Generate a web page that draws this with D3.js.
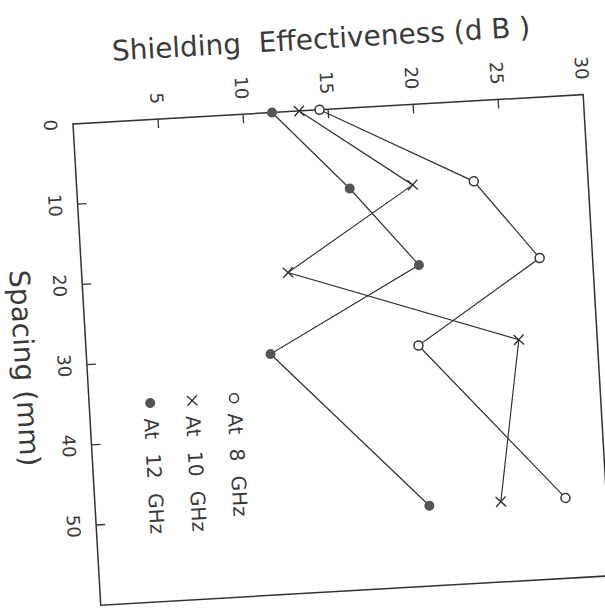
<!DOCTYPE html>
<html>
<head>
<meta charset="utf-8">
<script src="https://cdn.jsdelivr.net/npm/d3@7"></script>
<style>
  body { margin: 0; background: #fff; }
  text { font-family: "DejaVu Sans", sans-serif; fill: #3a3a3a; }
</style>
</head>
<body>
<div id="chart"></div>
<script>
// data (spacing in mm, shielding effectiveness in dB)
const spacing = [0, 10, 20, 30, 50];
const se8 = [14.5, 23.3, 26.9, 19.5, 27.6];
const se10 = [13.3, 19.7, 12.1, 25.4, 23.8];
const se12 = [11.7, 16.0, 19.8, 10.8, 19.6];
const spacingTicks = [0, 10, 20, 30, 40, 50];
const seTicks = [5, 10, 15, 20, 25, 30];
const legendLabels = ["At 8 GHz", "At 10 GHz", "At 12 GHz"];

let W = 482, H = 511;   // plot size before the page is turned
let ink = "#333";

let svg = d3.select("#chart").append("svg")
    .attr("width", 605)
    .attr("height", 614);

// the printed chart is turned a quarter turn clockwise, and the scan a little askew
let g = svg.append("g")
    .attr("transform", "translate(73,124) rotate(86.7) translate(0," + (-H) + ")");

let x = d3.scaleLinear().domain([0, 60]).range([0, W]);
let y = d3.scaleLinear().domain([0, 30]).range([H, 0]);

g.append("rect")
    .attr("width", W)
    .attr("height", H)
    .attr("fill", "none")
    .attr("stroke", ink)
    .attr("stroke-width", 1.5);

// spacing ticks and labels
g.selectAll(".xt").data(spacingTicks.filter(d => d > 0)).enter()
    .append("line")
    .attr("x1", d => x(d)).attr("x2", d => x(d))
    .attr("y1", H).attr("y2", H - 9)
    .attr("stroke", ink).attr("stroke-width", 1.3);

g.selectAll(".xl").data(spacingTicks).enter()
    .append("text")
    .attr("x", d => x(d))
    .attr("y", H + 29)
    .attr("text-anchor", "middle")
    .style("font-size", "18px")
    .text(d => d);

// dB ticks and labels
g.selectAll(".yt").data(seTicks.filter(d => d < 30)).enter()
    .append("line")
    .attr("x1", 0).attr("x2", 9)
    .attr("y1", d => y(d)).attr("y2", d => y(d))
    .attr("stroke", ink).attr("stroke-width", 1.3);

g.selectAll(".yl").data(seTicks).enter()
    .append("text")
    .attr("x", -15)
    .attr("y", d => y(d))
    .attr("dy", "0.36em")
    .attr("text-anchor", "end")
    .style("font-size", "18px")
    .text(d => d);

// axis titles
g.append("text")
    .attr("transform", "translate(-61," + (H / 2 + 3) + ") rotate(-90)")
    .attr("text-anchor", "middle")
    .style("font-size", "28px")
    .style("white-space", "pre")
    .text("Shielding  Effectiveness (d B )");

g.append("text")
    .attr("x", W / 2)
    .attr("y", H + 72)
    .attr("text-anchor", "middle")
    .style("font-size", "28px")
    .text("Spacing (mm)");

// series
let series = [
    { vals: se8, mark: "open" },
    { vals: se10, mark: "cross" },
    { vals: se12, mark: "dot" }
];

let line = d3.line()
    .x(d => x(d[0]))
    .y(d => y(d[1]));

function drawMark(sel, kind, px, py) {
    if (kind === "open") {
        sel.append("circle").attr("cx", px).attr("cy", py).attr("r", 4.5)
            .attr("fill", "#fff").attr("stroke", ink).attr("stroke-width", 1.5);
    } else if (kind === "dot") {
        sel.append("circle").attr("cx", px).attr("cy", py).attr("r", 5)
            .attr("fill", "#555");
    } else {
        let s = 5;
        sel.append("path")
            .attr("d", "M" + (px - s) + "," + (py - s) + "L" + (px + s) + "," + (py + s) +
                "M" + (px - s) + "," + (py + s) + "L" + (px + s) + "," + (py - s))
            .attr("stroke", ink).attr("stroke-width", 1.4);
    }
}

for (let s of series) {
    let pts = spacing.map((d, i) => [d, s.vals[i]]);
    g.append("path")
        .attr("d", line(pts))
        .attr("fill", "none")
        .attr("stroke", ink)
        .attr("stroke-width", 1.2);
    for (let p of pts) drawMark(g, s.mark, x(p[0]), y(p[1]));
}

// legend
let legend = g.append("g").attr("transform", "translate(283,366)");
legendLabels.forEach(function(lab, i) {
    let ly = i * 42;
    drawMark(legend, series[i].mark, 0, ly);
    legend.append("text")
        .attr("x", 15)
        .attr("y", ly)
        .attr("dy", "0.36em")
        .style("font-size", "20px")
        .style("word-spacing", "8px")
        .text(lab);
});
</script>
</body>
</html>
